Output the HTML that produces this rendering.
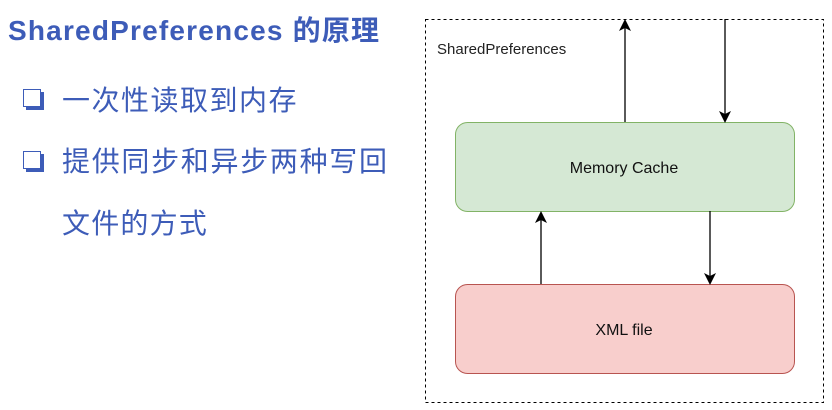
<!DOCTYPE html>
<html><head><meta charset="utf-8"><style>
body{margin:0;width:832px;height:410px;background:#fff;position:relative;overflow:hidden;font-family:"Liberation Sans","Noto Sans CJK SC",sans-serif}
.t{position:absolute;white-space:nowrap;color:#3d5cb8}
.b{position:absolute;width:16px;height:16px;border:1.5px solid #3d5cb8;background:#fff;box-shadow:3px 3px 0 #3d5cb8}
</style></head><body>
<div class="t" style="left:8px;top:14px;font-size:28px;letter-spacing:1.2px;font-weight:bold;line-height:34px">SharedPreferences 的原理</div>
<div class="b" style="left:23px;top:89px"></div>
<div class="t" style="left:62px;top:84px;font-size:28px;letter-spacing:1.5px;line-height:34px">一次性读取到内存</div>
<div class="b" style="left:23px;top:151px"></div>
<div class="t" style="left:62px;top:145px;font-size:28px;letter-spacing:1.7px;line-height:34px">提供同步和异步两种写回</div>
<div class="t" style="left:62px;top:207px;font-size:28px;letter-spacing:1.2px;line-height:34px">文件的方式</div>
<svg width="832" height="410" style="position:absolute;left:0;top:0">
<defs><marker id="a" markerWidth="12" markerHeight="12" refX="10" refY="6" orient="auto" markerUnits="userSpaceOnUse"><path d="M0,0 L12,6 L0,12 L3,6 Z" fill="#000"/></marker></defs>
<rect x="425.5" y="19.5" width="398" height="383" fill="none" stroke="#000" stroke-dasharray="3,3"/>
<text x="437" y="54" font-size="15" fill="#222" font-family="Liberation Sans">SharedPreferences</text>
<rect x="455.5" y="122.5" width="339" height="89" rx="12" fill="#d5e8d4" stroke="#82b366"/>
<rect x="455.5" y="284.5" width="339" height="89" rx="12" fill="#f8cecc" stroke="#b85450"/>
<text x="624" y="173" font-size="16" text-anchor="middle" fill="#111" font-family="Liberation Sans">Memory Cache</text>
<text x="624" y="335" font-size="16" text-anchor="middle" fill="#111" font-family="Liberation Sans">XML file</text>
<g stroke="#000" stroke-width="1.3" fill="none">
<line x1="625" y1="122" x2="625" y2="21" marker-end="url(#a)"/>
<line x1="725" y1="19" x2="725" y2="121" marker-end="url(#a)"/>
<line x1="541" y1="284" x2="541" y2="213" marker-end="url(#a)"/>
<line x1="710" y1="211" x2="710" y2="283" marker-end="url(#a)"/>
</g>
</svg>
</body></html>
